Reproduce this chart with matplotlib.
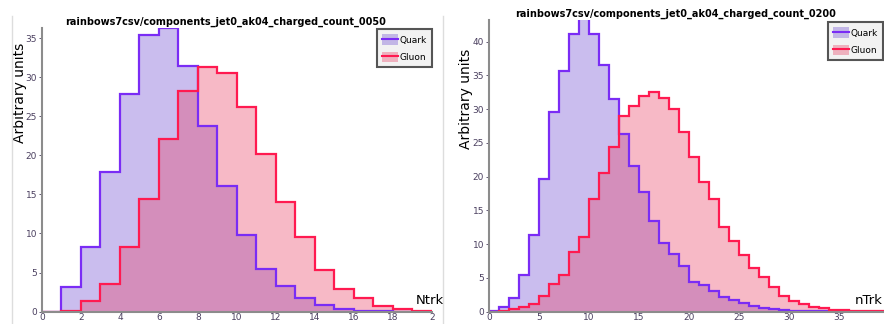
import numpy as np
import matplotlib.pyplot as plt
from matplotlib.patches import Patch
from matplotlib.lines import Line2D

# Left panel: charged count, pT cut 0050 (bins of width 1 from 0 to 20)
left_title = "rainbows7csv/components_jet0_ak04_charged_count_0050"
left_edges = np.arange(0, 21)
left_quark = [0.0, 3.1, 8.3, 17.9, 27.9, 35.4, 36.3, 31.4, 23.7, 16.1,
              9.8, 5.5, 3.3, 1.8, 0.9, 0.4, 0.15, 0.05, 0.02, 0.0]
left_gluon = [0.0, 0.1, 1.4, 3.5, 8.3, 14.4, 22.1, 28.2, 31.3, 30.5,
              26.2, 20.2, 14.0, 9.5, 5.3, 2.9, 1.8, 0.7, 0.35, 0.15]

# Right panel: charged count, pT cut 0200 (bins of width 1 from 0 to 40)
right_title = "rainbows7csv/components_jet0_ak04_charged_count_0200"
right_edges = np.arange(0, 41)
right_quark = [0.05, 0.7, 2.0, 5.4, 11.4, 19.7, 29.6, 35.6, 41.2, 43.5,
               41.2, 36.6, 31.5, 26.3, 21.6, 17.7, 13.4, 10.2, 8.5, 6.7,
               4.4, 4.0, 3.0, 2.2, 1.7, 1.3, 0.9, 0.6, 0.4, 0.25,
               0.15, 0.1, 0.05, 0.03, 0.02, 0.0, 0.0, 0.0, 0.0, 0.0]
right_gluon = [0.0, 0.1, 0.4, 0.75, 1.1, 2.3, 4.1, 5.4, 8.9, 11.0,
               16.7, 20.6, 24.4, 29.0, 30.4, 31.9, 32.5, 31.7, 30.0, 26.6,
               22.9, 19.2, 16.7, 12.6, 10.5, 8.4, 6.5, 5.1, 3.6, 2.3,
               1.6, 1.1, 0.75, 0.5, 0.3, 0.2, 0.1, 0.05, 0.05, 0.03]

quark_line = "#7A2CF5"
quark_fill = "#7B5CD6"
gluon_line = "#FF1A50"
gluon_fill = "#E8345A"
tick_col = "#4a3f5f"
spine_col = "#8c8c8c"

fig = plt.figure(figsize=(8.84, 3.24), dpi=100)


def draw_panel(ax, edges, quark, gluon, title, title_x, xticks, xlabels, ylim,
               xname, xname_pos, ylab_pos, leg_anchor):
    ax.stairs(quark, edges, fill=True, color=quark_fill, alpha=0.4, lw=0)
    ax.stairs(gluon, edges, fill=True, color=gluon_fill, alpha=0.34, lw=0)
    ax.stairs(quark, edges, color=quark_line, lw=1.6)
    ax.stairs(gluon, edges, color=gluon_line, lw=1.6)
    ax.set_xlim(edges[0], edges[-1])
    ax.set_ylim(0, ylim)
    for s in ["top", "right"]:
        ax.spines[s].set_visible(False)
    for s in ["left", "bottom"]:
        ax.spines[s].set_color(spine_col)
        ax.spines[s].set_linewidth(1.5)
    ax.set_xticks(xticks)
    ax.set_xticklabels(xlabels)
    ax.set_yticks(np.arange(0, ylim, 5))
    ax.tick_params(axis="both", labelsize=6.5, colors=tick_col, length=2, width=0.6, pad=1.5)
    ax.tick_params(axis="x", length=0, pad=1)
    ax.set_title(title, fontsize=7, fontweight="bold", pad=2.5, x=title_x)
    ax.set_ylabel("Arbitrary units", fontsize=10)
    ax.yaxis.set_label_coords(*ylab_pos)
    ax.text(xname_pos[0], xname_pos[1], xname, fontsize=9.5, transform=ax.transAxes,
            ha="left", va="bottom")
    handles = [
        (Patch(facecolor=quark_fill, alpha=0.4), Line2D([], [], color=quark_line, lw=1.5)),
        (Patch(facecolor=gluon_fill, alpha=0.34), Line2D([], [], color=gluon_line, lw=1.5)),
    ]
    leg = ax.legend(handles, ["Quark", "Gluon"], loc="upper right", fontsize=6.5,
                    bbox_to_anchor=leg_anchor, bbox_transform=fig.transFigure,
                    fancybox=False, framealpha=1, handlelength=1.7, handleheight=1.4,
                    handletextpad=0.2, borderpad=0.6, labelspacing=0.75, borderaxespad=0)
    leg.get_frame().set_facecolor("#f2f2f2")
    leg.get_frame().set_edgecolor("#555555")
    leg.get_frame().set_linewidth(1.5)


ax1 = fig.add_axes([0.0475, 0.038, 0.441, 0.876])
draw_panel(ax1, left_edges, left_quark, left_gluon, left_title, 0.472,
           np.arange(0, 21, 2), [str(v) for v in range(0, 20, 2)] + ["2"],
           36.3, "Ntrk", (0.96, 0.015), (-0.038, 0.77),
           (432 / 884, 1 - 29 / 324))

ax2 = fig.add_axes([0.553, 0.038, 0.4525, 0.90])
draw_panel(ax2, right_edges, right_quark, right_gluon, right_title, 0.4675,
           np.arange(0, 36, 5), [str(v) for v in range(0, 36, 5)],
           43.2, "nTrk", (0.915, 0.015), (-0.04, 0.73),
           (883 / 884, 1 - 22 / 324))

# faint screenshot borders
fig.add_artist(Line2D([12 / 884, 12 / 884], [0, 0.95], color="#dddddd", lw=1))
fig.add_artist(Line2D([443 / 884, 443 / 884], [0, 0.95], color="#dddddd", lw=1))

fig.savefig("out.png", dpi=100)
